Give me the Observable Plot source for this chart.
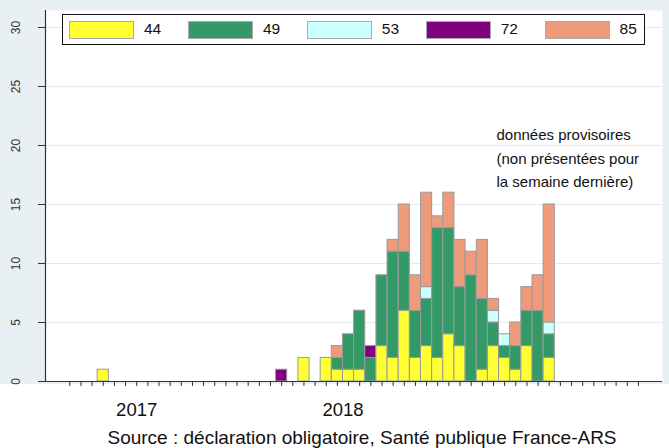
<!DOCTYPE html>
<html>
<head>
<meta charset="utf-8">
<script src="https://cdn.jsdelivr.net/npm/d3@7"></script>
<script src="https://cdn.jsdelivr.net/npm/@observablehq/plot@0.6"></script>
<style>
  html, body { margin: 0; padding: 0; background: #fff; }
  #wrap { position: relative; width: 669px; height: 448px; font-family: "Liberation Sans", Arial, sans-serif; }
  #legend { position: absolute; left: 62px; top: 14px; width: 583px; height: 31px; box-sizing: border-box;
            border: 1px solid #111; background: #fff; }
  .sw { position: absolute; top: 6px; width: 63px; height: 16px; border: 1px solid #aaa; }
  .lb { position: absolute; top: 5px; font-size: 15.5px; line-height: 18px; color: #111; }
</style>
</head>
<body>
<div id="wrap"></div>
<script>
// ---- data ----
const categories = ["44", "49", "53", "72", "85"];
const colors = ["#ffff33", "#339966", "#ccffff", "#800080", "#ee9b7b"];
const weeks = [3, 19, 21, 23, 24, 25, 26, 27, 28, 29, 30, 31, 32, 33, 34, 35, 36, 37, 38, 39, 40, 41, 42, 43];
const s44 = [1, 0, 2, 2, 1, 1, 1, 0, 3, 2, 6, 2, 3, 2, 4, 3, 0, 1, 3, 2, 1, 3, 0, 2];
const s49 = [0, 0, 0, 0, 1, 3, 5, 2, 6, 9, 5, 4, 4, 11, 9, 5, 9, 6, 2, 1, 2, 3, 6, 2];
const s53 = [0, 0, 0, 0, 0, 0, 0, 0, 0, 0, 0, 0, 1, 0, 0, 0, 0, 0, 1, 1, 0, 0, 0, 1];
const s72 = [0, 1, 0, 0, 0, 0, 0, 1, 0, 0, 0, 0, 0, 0, 0, 0, 0, 0, 0, 0, 0, 0, 0, 0];
const s85 = [0, 0, 0, 0, 1, 0, 0, 0, 0, 1, 4, 3, 8, 1, 3, 4, 2, 5, 1, 0, 2, 2, 3, 10];
const yTicks = [0, 5, 10, 15, 20, 25, 30];
const xTicks = d3.range(0, 52);
const yearLabels = ["2017", "2018"];
const yearPos = [6, 24.5];
const note = "données provisoires\n(non présentées pour\nla semaine dernière)";
const source = "Source : déclaration obligatoire, Santé publique France-ARS";

// ---- build stacked table ----
const series = [s44, s49, s53, s72, s85];
const rows = [];
weeks.forEach((w, i) => {
  let base = 0;
  series.forEach((s, k) => {
    const v = s[i];
    if (v > 0) {
      rows.push({week: w, cat: categories[k], y1: base, y2: base + v});
      base += v;
    }
  });
});

const ink = "#333";
const chart = Plot.plot({
  width: 669,
  height: 448,
  marginLeft: 45,
  marginRight: 7,
  marginTop: 10,
  marginBottom: 67,
  style: {
    fontFamily: "'Liberation Sans', Arial, sans-serif",
    background: "linear-gradient(#e9f0f3 0px, #e9f0f3 384px, #ffffff 384px)",
    overflow: "visible"
  },
  x: {type: "linear", domain: [-2.18, 53.16], axis: null},
  y: {type: "linear", domain: [0, 31.44], axis: null},
  color: {domain: categories, range: colors},
  marks: [
    Plot.frame({fill: "white", stroke: "none"}),
    Plot.gridY(yTicks.filter(d => d > 0), {stroke: "#e3ebef", strokeOpacity: 1, strokeWidth: 1}),
    Plot.rect(rows, {
      x1: d => d.week - 0.5, x2: d => d.week + 0.5,
      y1: "y1", y2: "y2", fill: "cat", stroke: "#9a9a9a", strokeWidth: 1
    }),
    Plot.axisY({ticks: yTicks, tickSize: 7, tickFormat: () => "", stroke: ink, label: null}),
    Plot.text(yTicks, {y: d => d, text: d => String(d), frameAnchor: "left", dx: -29, rotate: -90,
      fontSize: 12, fill: ink, textAnchor: "middle", lineAnchor: "middle"}),
    Plot.axisX({ticks: xTicks, tickSize: 5, tickFormat: () => "", stroke: ink, label: null}),
    Plot.ruleX([-2.18], {stroke: ink, strokeWidth: 1.2}),
    Plot.ruleY([0], {stroke: ink, strokeWidth: 1.2}),
    Plot.text(yearLabels, {x: (d, i) => yearPos[i], text: d => d, frameAnchor: "bottom", dy: 29,
      fontSize: 18.5, fill: "#111", lineAnchor: "middle"}),
    Plot.text([source], {text: d => d, frameAnchor: "bottom", dx: 8, dy: 56,
      fontSize: 19, fill: "#111", lineAnchor: "middle"}),
    Plot.text([note], {x: [38.27], y: [19.1], text: d => d, textAnchor: "start", lineAnchor: "middle",
      lineHeight: 1.55, fontSize: 15, fill: "#111"})
  ]
});

const wrap = document.getElementById("wrap");
wrap.appendChild(chart);

// legend
const legend = document.createElement("div");
legend.id = "legend";
categories.forEach((c, k) => {
  const sw = document.createElement("div");
  sw.className = "sw";
  sw.style.left = (6 + k * 118.9) + "px";
  sw.style.background = colors[k];
  legend.appendChild(sw);
  const lb = document.createElement("div");
  lb.className = "lb";
  lb.style.left = (6 + k * 118.9 + 75) + "px";
  lb.textContent = c;
  legend.appendChild(lb);
});
wrap.appendChild(legend);
</script>
</body>
</html>
